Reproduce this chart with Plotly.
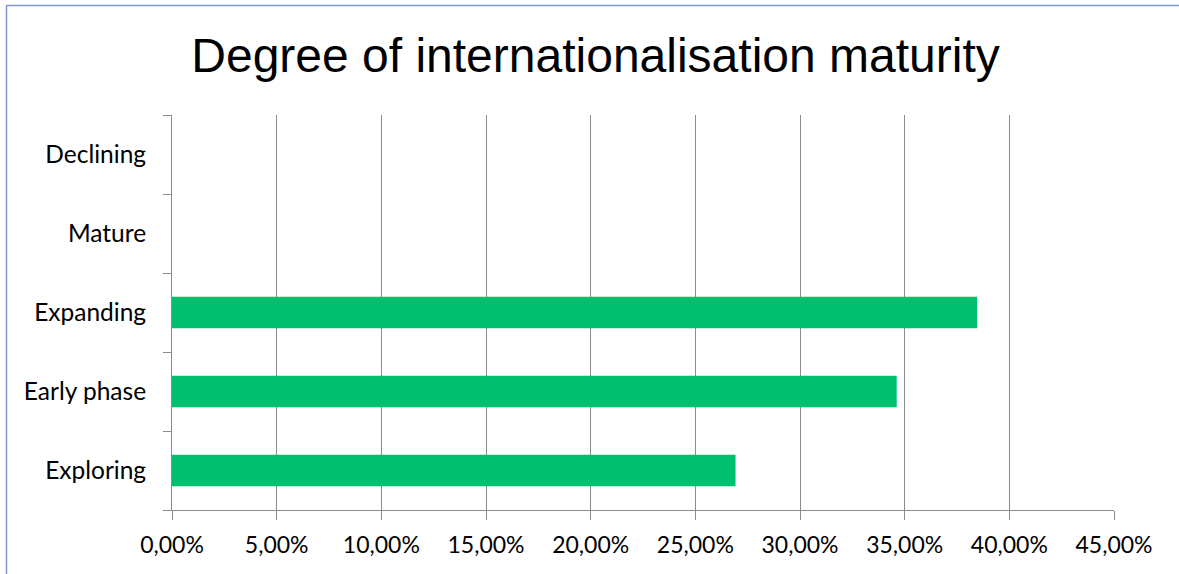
import plotly.graph_objects as go

# Share of respondents per internationalisation stage
categories = ["Exploring", "Early phase", "Expanding", "Mature", "Declining"]
shares = [0.2692, 0.3462, 0.3846, 0.0, 0.0]
x_ticks = [0.0, 0.05, 0.10, 0.15, 0.20, 0.25, 0.30, 0.35, 0.40, 0.45]

W, H = 1179, 574
M_L, M_R, M_T, M_B = 172, 65, 115, 64
PW, PH = W - M_L - M_R, H - M_T - M_B

def px_x(px):
    return (px - M_L) / PW

def px_y(py):
    return (H - M_B - py) / PH

GRID = "#8C8C8C"
GREEN = "#00BF6F"
FRAME = "#7B9BD1"

fig = go.Figure(
    go.Bar(
        x=shares,
        y=list(range(len(categories))),
        orientation="h",
        width=0.4,
        marker=dict(color=GREEN, line=dict(width=0)),
        hoverinfo="skip",
    )
)

fig.update_layout(
    width=W,
    height=H,
    margin=dict(l=M_L, r=M_R, t=M_T, b=M_B, pad=0),
    paper_bgcolor="white",
    plot_bgcolor="white",
    separators=",.",
    showlegend=False,
    title=dict(
        text="Degree of internationalisation maturity",
        font=dict(family="Liberation Sans, Arial, sans-serif", size=48, color="#000000"),
        x=595.5 / W,
        xref="container",
        xanchor="center",
        y=1 - 72 / H,
        yref="container",
        yanchor="bottom",
    ),
    font=dict(family="Lato, Calibri, sans-serif", size=23, color="#000000"),
    shapes=[
        dict(type="line", xref="paper", yref="paper",
             x0=px_x(6), x1=px_x(W + 10), y0=px_y(5.5), y1=px_y(5.5),
             line=dict(color=FRAME, width=1.5)),
        dict(type="line", xref="paper", yref="paper",
             x0=px_x(6.5), x1=px_x(6.5), y0=px_y(5), y1=px_y(H + 10),
             line=dict(color=FRAME, width=1.5)),
    ],
)

fig.update_xaxes(
    range=[0, 0.45],
    tickvals=x_ticks,
    tickformat=".2%",
    showgrid=True,
    gridcolor=GRID,
    gridwidth=1,
    zeroline=False,
    showline=True,
    linecolor=GRID,
    linewidth=1,
    ticks="outside",
    ticklen=9,
    tickcolor=GRID,
    tickfont=dict(size=23),
    ticklabelstandoff=5,
)

fig.update_yaxes(
    range=[-0.5, len(categories) - 0.5],
    tickvals=list(range(len(categories))),
    ticktext=categories,
    ticks="",
    showgrid=False,
    zeroline=False,
    showline=True,
    linecolor=GRID,
    linewidth=1,
    tickfont=dict(size=24.5),
    ticklabelstandoff=20,
    minor=dict(
        ticks="outside",
        tick0=-0.5,
        dtick=1,
        ticklen=8,
        tickcolor=GRID,
        showgrid=False,
    ),
)

fig.write_html("out.html")
